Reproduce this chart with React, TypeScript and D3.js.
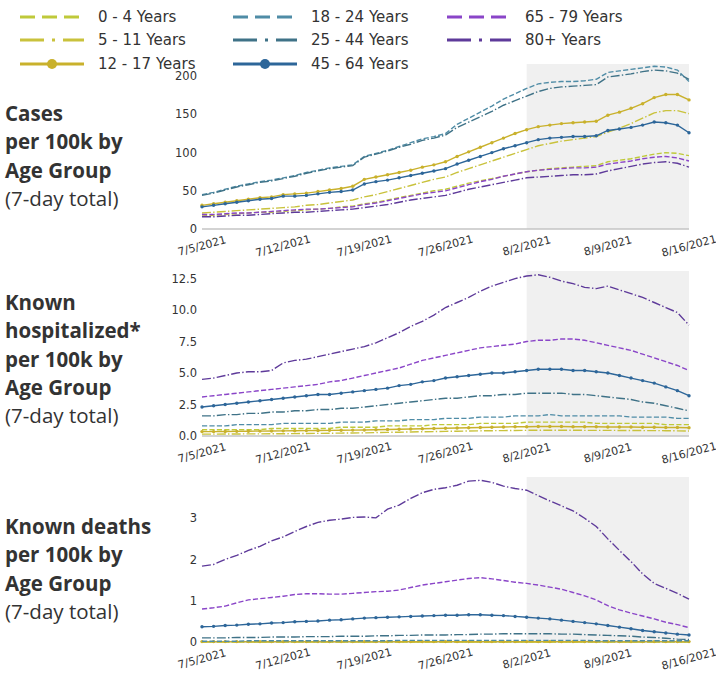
import React from 'react';
import * as d3 from 'd3';

// ---------- DATA ----------
const START_DATE = new Date(2021, 6, 5); // 7/5/2021
const N_DAYS = 43; // 7/5 .. 8/16
const SHADE_START = new Date(2021, 7, 2); // 8/2/2021
const xTickDates = [new Date(2021, 6, 5), new Date(2021, 6, 12), new Date(2021, 6, 19), new Date(2021, 6, 26), new Date(2021, 7, 2), new Date(2021, 7, 9), new Date(2021, 7, 16)];
const xTickLabels = ['7/5/2021', '7/12/2021', '7/19/2021', '7/26/2021', '8/2/2021', '8/9/2021', '8/16/2021'];

const ageGroups = ['0 - 4 Years', '5 - 11 Years', '12 - 17 Years', '18 - 24 Years', '25 - 44 Years', '45 - 64 Years', '65 - 79 Years', '80+ Years'];

// Cases per 100k (7-day total)
const cases0_4 = [17,18,19,20,21,22,22, 23,24,25,26,27,29,30, 33,35,38,41,44,47,50, 52,56,60,63,66,69,72, 75,77,79,80,81,82,83, 88,90,92,95,98,100,99, 96];
const cases5_11 = [21,22,23,24,25,26,27, 28,29,31,32,34,36,38, 42,45,49,53,57,61,65, 68,74,79,84,89,94,99, 104,109,112,115,117,119,121, 127,132,138,145,152,155,155, 151];
const cases12_17 = [31,33,35,37,39,41,42, 45,46,47,49,51,53,56, 65,68,71,74,77,81,84, 88,95,101,107,113,119,125, 130,134,136,138,139,140,141, 149,153,158,164,172,176,176, 169];
const cases18_24 = [45,48,52,56,59,62,64, 67,70,74,77,80,82,84, 95,99,103,108,113,118,121, 125,137,145,153,161,170,177, 184,190,192,193,193,194,196, 205,207,209,211,213,212,208, 193];
const cases25_44 = [44,47,51,55,58,61,63, 66,69,73,76,79,81,83, 94,98,102,107,111,116,119, 123,133,140,147,154,162,168, 174,180,184,186,187,188,189, 199,201,203,206,208,207,204, 196];
const cases45_64 = [29,31,33,35,37,39,40, 43,43,44,46,48,49,51, 59,62,64,67,70,73,76, 79,85,90,95,100,105,109, 113,117,119,120,121,121,122, 129,131,133,136,140,139,136, 126];
const cases65_79 = [19,19,20,21,21,22,23, 24,25,26,26,27,28,29, 32,34,37,40,43,46,48, 50,54,58,62,65,69,72, 75,77,78,79,80,80,81, 85,87,89,92,94,95,93, 89];
const cases80 = [16,16,17,18,18,19,20, 21,22,22,23,24,25,26, 28,30,32,35,38,40,42, 44,48,52,55,58,61,64, 67,68,69,70,71,71,72, 76,79,82,85,87,88,86, 81];

// Known hospitalized per 100k (7-day total)
const hosp0_4 = [0.5,0.5,0.5,0.5,0.5,0.5,0.6, 0.6,0.6,0.6,0.6,0.6,0.7,0.7, 0.7,0.7,0.8,0.8,0.8,0.8,0.9, 0.9,0.9,0.9,1.0,1.0,1.0,1.0, 1.1,1.1,1.1,1.1,1.1,1.1,1.0, 1.0,1.0,1.0,1.0,1.0,0.9,0.9, 0.9];
const hosp5_11 = [0.15,0.15,0.16,0.16,0.17,0.17,0.18, 0.18,0.19,0.20,0.21,0.22,0.23,0.24, 0.25,0.27,0.29,0.30,0.32,0.34,0.35, 0.37,0.38,0.40,0.41,0.42,0.43,0.44, 0.45,0.46,0.46,0.46,0.46,0.45,0.45, 0.45,0.44,0.44,0.43,0.43,0.42,0.41, 0.40];
const hosp12_17 = [0.35,0.35,0.36,0.37,0.38,0.39,0.40, 0.41,0.42,0.43,0.44,0.45,0.46,0.47, 0.48,0.50,0.52,0.54,0.56,0.58,0.60, 0.62,0.64,0.66,0.68,0.70,0.72,0.73, 0.74,0.75,0.75,0.75,0.74,0.74,0.73, 0.72,0.72,0.71,0.70,0.69,0.68,0.67, 0.65];
const hosp18_24 = [0.8,0.8,0.8,0.9,0.9,0.9,0.9, 1.0,1.0,1.0,1.0,1.0,1.1,1.1, 1.1,1.2,1.2,1.2,1.3,1.3,1.3, 1.4,1.4,1.4,1.5,1.5,1.5,1.6, 1.6,1.6,1.7,1.6,1.6,1.6,1.6, 1.6,1.6,1.5,1.5,1.5,1.5,1.4, 1.4];
const hosp25_44 = [1.6,1.6,1.7,1.7,1.8,1.8,1.9, 1.9,2.0,2.0,2.1,2.1,2.2,2.2, 2.3,2.4,2.5,2.6,2.7,2.8,2.9, 3.0,3.0,3.1,3.2,3.2,3.3,3.3, 3.4,3.4,3.4,3.4,3.3,3.3,3.2, 3.1,3.0,2.9,2.7,2.6,2.4,2.2, 2.0];
const hosp45_64 = [2.3,2.4,2.5,2.6,2.7,2.8,2.9, 3.0,3.1,3.2,3.3,3.3,3.4,3.5, 3.6,3.7,3.8,4.0,4.1,4.3,4.4, 4.6,4.7,4.8,4.9,5.0,5.0,5.1, 5.2,5.3,5.3,5.3,5.2,5.2,5.1, 5.0,4.8,4.6,4.4,4.2,3.9,3.6, 3.2];
const hosp65_79 = [3.1,3.2,3.3,3.4,3.5,3.6,3.7, 3.8,3.9,4.0,4.1,4.3,4.4,4.6, 4.8,5.0,5.2,5.4,5.7,6.0,6.2, 6.4,6.6,6.8,7.0,7.1,7.2,7.3, 7.5,7.6,7.6,7.7,7.7,7.6,7.4, 7.2,7.0,6.8,6.5,6.2,5.9,5.6, 5.2];
const hosp80 = [4.5,4.6,4.8,5.0,5.1,5.1,5.2, 5.8,6.0,6.1,6.3,6.5,6.7,6.9, 7.1,7.4,7.8,8.2,8.7,9.1,9.6, 10.2,10.6,11.0,11.5,11.9,12.2,12.5, 12.7,12.8,12.6,12.3,12.1,11.8,11.7, 11.9,11.6,11.3,11.0,10.6,10.2,9.8, 8.8];

// Known deaths per 100k (7-day total)
const deaths0_4 = [0,0,0,0,0,0,0, 0,0,0,0,0,0,0, 0,0,0,0,0,0,0, 0,0,0,0,0,0,0, 0,0,0,0,0,0,0, 0,0,0,0,0,0,0, 0];
const deaths5_11 = [0,0,0,0,0,0,0, 0,0,0,0,0,0,0, 0,0,0,0,0,0,0, 0,0,0,0,0,0,0, 0,0,0,0,0,0,0, 0,0,0,0,0,0,0, 0];
const deaths12_17 = [0.01,0.01,0.01,0.01,0.01,0.01,0.01, 0.01,0.01,0.01,0.01,0.01,0.01,0.01, 0.01,0.01,0.01,0.01,0.01,0.01,0.01, 0.01,0.01,0.01,0.01,0.01,0.01,0.01, 0.01,0.01,0.01,0.01,0.01,0.01,0.01, 0.01,0.01,0.01,0.01,0.01,0.01,0.01, 0.01];
const deaths18_24 = [0.02,0.02,0.02,0.02,0.03,0.03,0.03, 0.03,0.03,0.03,0.03,0.03,0.03,0.03, 0.03,0.03,0.03,0.04,0.04,0.04,0.04, 0.04,0.04,0.04,0.04,0.04,0.04,0.04, 0.04,0.04,0.04,0.04,0.04,0.04,0.03, 0.03,0.03,0.03,0.03,0.03,0.03,0.03, 0.03];
const deaths25_44 = [0.10,0.10,0.10,0.11,0.11,0.11,0.12, 0.12,0.12,0.13,0.13,0.13,0.14,0.14, 0.14,0.15,0.15,0.16,0.16,0.17,0.17, 0.17,0.18,0.18,0.19,0.19,0.20,0.20, 0.20,0.20,0.20,0.19,0.19,0.18,0.17, 0.16,0.15,0.14,0.12,0.11,0.09,0.07, 0.06];
const deaths45_64 = [0.37,0.38,0.40,0.41,0.43,0.44,0.46, 0.47,0.49,0.50,0.51,0.53,0.54,0.56, 0.58,0.59,0.60,0.61,0.62,0.63,0.64, 0.65,0.65,0.66,0.66,0.65,0.64,0.62, 0.60,0.58,0.56,0.53,0.50,0.47,0.44, 0.40,0.36,0.32,0.28,0.25,0.22,0.19, 0.17];
const deaths65_79 = [0.80,0.83,0.87,0.95,1.02,1.05,1.08, 1.11,1.15,1.17,1.17,1.16,1.16,1.18, 1.20,1.22,1.23,1.26,1.32,1.38,1.42, 1.46,1.50,1.54,1.56,1.53,1.49,1.45, 1.42,1.38,1.33,1.28,1.20,1.12,1.02, 0.88,0.78,0.70,0.63,0.56,0.48,0.42, 0.35];
const deaths80 = [1.84,1.88,2.00,2.10,2.22,2.32,2.45, 2.55,2.68,2.80,2.90,2.95,2.98,3.02, 3.03,3.01,3.22,3.32,3.48,3.62,3.70, 3.74,3.80,3.90,3.92,3.87,3.78,3.72, 3.68,3.55,3.42,3.30,3.18,3.00,2.80, 2.50,2.22,1.95,1.65,1.42,1.30,1.18, 1.04];

const casesSeries = [cases0_4, cases5_11, cases12_17, cases18_24, cases25_44, cases45_64, cases65_79, cases80];
const hospSeries = [hosp0_4, hosp5_11, hosp12_17, hosp18_24, hosp25_44, hosp45_64, hosp65_79, hosp80];
const deathsSeries = [deaths0_4, deaths5_11, deaths12_17, deaths18_24, deaths25_44, deaths45_64, deaths65_79, deaths80];

const casesTicks = [0, 50, 100, 150, 200];
const hospTicks = [0, 2.5, 5, 7.5, 10, 12.5];
const deathsTicks = [0, 1, 2, 3];

// ---------- STYLE ----------
const colors = ['#bfc93a', '#c9c23c', '#c9b12c', '#4f8ca6', '#3f7287', '#2d6699', '#8a45c8', '#5e3a9a'];
const kinds = ['dash', 'dashdot', 'marker', 'dash', 'dashdot', 'marker', 'dash', 'dashdot'];

const W = 716, H = 681;
const X0 = 202, X1 = 689;
const TEXT = '#333333';

const dates = d3.range(N_DAYS).map((i) => d3.timeDay.offset(START_DATE, i));
const x = d3.scaleTime().domain([dates[0], dates[dates.length - 1]]).range([X0, X1]);

const panels = [
  { top: 64, bottom: 229, max: 216, ticks: casesTicks, fmt: (d: number) => String(d), series: casesSeries,
    label: [['Cases', true], ['per 100k by', true], ['Age Group', true], ['(7-day total)', false]], labelY: 121 },
  { top: 271, bottom: 436, max: 13.1, ticks: hospTicks, fmt: (d: number) => d.toFixed(1), series: hospSeries,
    label: [['Known', true], ['hospitalized*', true], ['per 100k by', true], ['Age Group', true], ['(7-day total)', false]], labelY: 310 },
  { top: 477, bottom: 642, max: 4.0, ticks: deathsTicks, fmt: (d: number) => String(d), series: deathsSeries,
    label: [['Known deaths', true], ['per 100k by', true], ['Age Group', true], ['(7-day total)', false]], labelY: 534 },
];

function dashFor(kind: string, lw: number) {
  if (kind === 'dash') return `${3.7 * lw},${1.6 * lw}`;
  if (kind === 'dashdot') return `${6.4 * lw},${1.6 * lw},${1 * lw},${1.6 * lw}`;
  return undefined;
}

function Panel({ p }: { p: any }) {
  const y = d3.scaleLinear().domain([0, p.max]).range([p.bottom, p.top]);
  const line = d3.line<number>().x((_, i) => x(dates[i])).y((d) => y(d));
  const lw = 1.4;
  return (
    <g>
      <rect x={x(SHADE_START)} y={p.top} width={X1 - x(SHADE_START)} height={p.bottom - p.top} fill="#f0f0f0" />
      <line x1={X0} x2={X1} y1={p.bottom} y2={p.bottom} stroke="#c4c4c4" strokeWidth={1.5} />
      {p.ticks.map((t: number) => (
        <text key={t} x={197} y={y(t)} textAnchor="end" dominantBaseline="central" fontFamily="DejaVu Sans" fontSize={11.5} fill={TEXT}>{p.fmt(t)}</text>
      ))}
      {xTickDates.map((d, i) => (
        <text key={i} transform={`translate(${x(d)},${p.bottom + 17}) rotate(-15)`} textAnchor="middle" dominantBaseline="central" fontFamily="DejaVu Sans" fontSize={11} fill={TEXT}>{xTickLabels[i]}</text>
      ))}
      {p.series.map((s: number[], si: number) => (
        <g key={si}>
          <path d={line(s) || ''} fill="none" stroke={colors[si]} strokeWidth={lw} strokeDasharray={dashFor(kinds[si], lw)} />
          {kinds[si] === 'marker' && s.map((v, i) => (
            <circle key={i} cx={x(dates[i])} cy={y(v)} r={1.7} fill={colors[si]} />
          ))}
        </g>
      ))}
      {p.label.map((l: any, i: number) => (
        <text key={i} x={5} y={p.labelY + i * 28.3} fontFamily="Open Sans" fontWeight={l[1] ? 700 : 400} fontSize={20.5} fill={TEXT}>{l[0]}</text>
      ))}
    </g>
  );
}

function Legend() {
  const cols = [20, 233, 447];
  const rows = [17, 40, 64];
  const lw = 3;
  return (
    <g>
      {ageGroups.map((g, i) => {
        const col = Math.floor(i / 3);
        const row = i % 3;
        const lx = cols[col];
        const ly = rows[row];
        const len = 64;
        return (
          <g key={g}>
            <line x1={lx} x2={lx + len} y1={ly} y2={ly} stroke={colors[i]} strokeWidth={lw}
              strokeDasharray={kinds[i] === 'dash' ? '15,7' : kinds[i] === 'dashdot' ? '24,8,3,8' : undefined} />
            {kinds[i] === 'marker' && <circle cx={lx + len / 2} cy={ly} r={5} fill={colors[i]} />}
            <text x={lx + 78} y={ly} dominantBaseline="central" fontFamily="DejaVu Sans" fontSize={15} fill={TEXT}>{g}</text>
          </g>
        );
      })}
    </g>
  );
}

export default function App() {
  return (
    <svg width={W} height={H} style={{ position: 'absolute', left: 0, top: 0, background: '#ffffff' }}>
      <rect width={W} height={H} fill="#ffffff" />
      {panels.map((p, i) => <Panel key={i} p={p} />)}
      <Legend />
    </svg>
  );
}
